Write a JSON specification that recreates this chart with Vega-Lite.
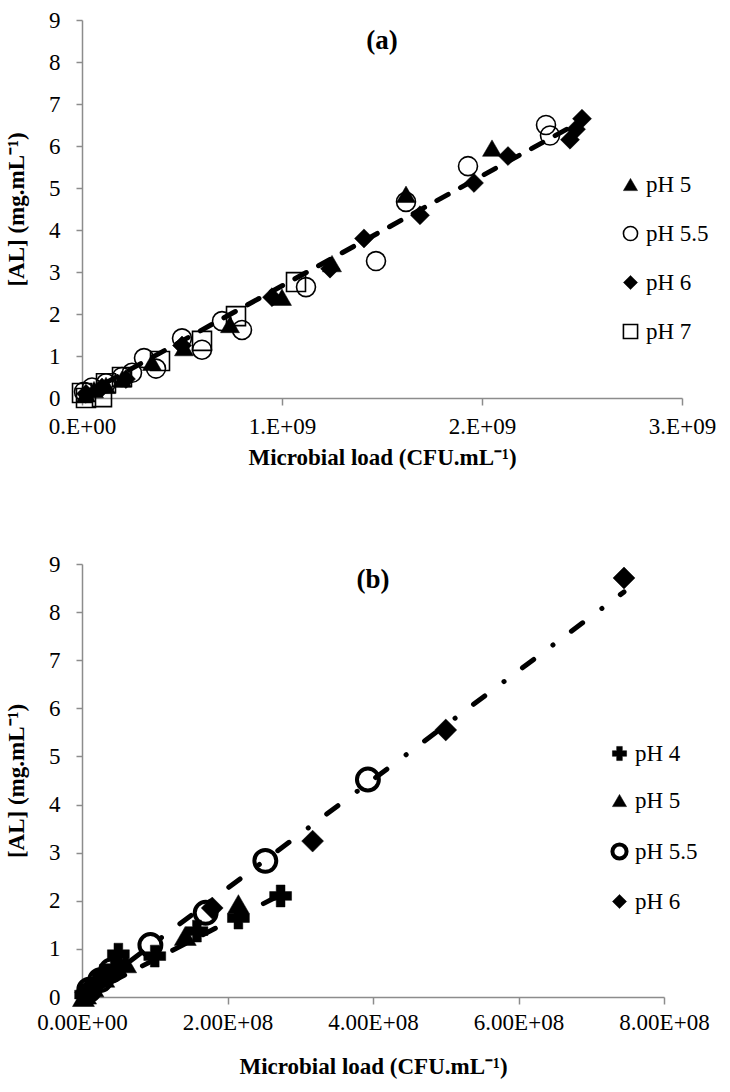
{
  "$schema": "https://vega.github.io/schema/vega-lite/v6.json",
  "background": "white",
  "padding": {"left": 5, "top": 9, "right": 5, "bottom": 5},
  "config": {
    "font": "Liberation Serif",
    "view": {"stroke": null},
    "axis": {"domainColor": "#8c8c8c", "domainWidth": 1.5, "tickColor": "#8c8c8c", "tickWidth": 1.5, "tickSize": 7, "grid": false, "labelFont": "Liberation Serif", "labelFontSize": 23, "labelColor": "black", "titleFont": "Liberation Serif", "titleFontSize": 23, "titleFontWeight": "bold", "titleColor": "black"},
    "legend": {"labelFont": "Liberation Serif", "labelFontSize": 23, "labelColor": "black"},
    "title": {"font": "Liberation Serif", "fontSize": 27, "fontWeight": "bold", "color": "black"},
    "concat": {"spacing": 84}
  },
  "resolve": {
    "scale": {"shape": "independent", "fill": "independent", "strokeWidth": "independent"},
    "legend": {"shape": "independent", "fill": "independent", "strokeWidth": "independent"}
  },
  "datasets": {
    "a": [
      {"ph": "pH 5", "load": 20000000, "al": 0.1},
      {"ph": "pH 5", "load": 60000000, "al": 0.2},
      {"ph": "pH 5", "load": 120000000, "al": 0.3},
      {"ph": "pH 5", "load": 200000000, "al": 0.45},
      {"ph": "pH 5", "load": 350000000, "al": 0.85},
      {"ph": "pH 5", "load": 510000000, "al": 1.2},
      {"ph": "pH 5", "load": 740000000, "al": 1.75},
      {"ph": "pH 5", "load": 1000000000, "al": 2.4},
      {"ph": "pH 5", "load": 1250000000, "al": 3.2},
      {"ph": "pH 5", "load": 1620000000, "al": 4.85},
      {"ph": "pH 5", "load": 2050000000, "al": 5.95},
      {"ph": "pH 5.5", "load": 10000000, "al": 0.15},
      {"ph": "pH 5.5", "load": 50000000, "al": 0.25},
      {"ph": "pH 5.5", "load": 120000000, "al": 0.35},
      {"ph": "pH 5.5", "load": 200000000, "al": 0.5},
      {"ph": "pH 5.5", "load": 250000000, "al": 0.6},
      {"ph": "pH 5.5", "load": 310000000, "al": 0.95},
      {"ph": "pH 5.5", "load": 370000000, "al": 0.7},
      {"ph": "pH 5.5", "load": 500000000, "al": 1.42},
      {"ph": "pH 5.5", "load": 600000000, "al": 1.15},
      {"ph": "pH 5.5", "load": 700000000, "al": 1.83},
      {"ph": "pH 5.5", "load": 800000000, "al": 1.62},
      {"ph": "pH 5.5", "load": 1120000000, "al": 2.64},
      {"ph": "pH 5.5", "load": 1470000000, "al": 3.26},
      {"ph": "pH 5.5", "load": 1620000000, "al": 4.67},
      {"ph": "pH 5.5", "load": 1930000000, "al": 5.52},
      {"ph": "pH 5.5", "load": 2320000000, "al": 6.5},
      {"ph": "pH 5.5", "load": 2340000000, "al": 6.25},
      {"ph": "pH 6", "load": 20000000, "al": 0.1},
      {"ph": "pH 6", "load": 100000000, "al": 0.25},
      {"ph": "pH 6", "load": 220000000, "al": 0.45},
      {"ph": "pH 6", "load": 500000000, "al": 1.25},
      {"ph": "pH 6", "load": 950000000, "al": 2.4},
      {"ph": "pH 6", "load": 1240000000, "al": 3.08},
      {"ph": "pH 6", "load": 1410000000, "al": 3.8},
      {"ph": "pH 6", "load": 1690000000, "al": 4.35},
      {"ph": "pH 6", "load": 1960000000, "al": 5.12},
      {"ph": "pH 6", "load": 2130000000, "al": 5.76},
      {"ph": "pH 6", "load": 2440000000, "al": 6.15},
      {"ph": "pH 6", "load": 2470000000, "al": 6.4},
      {"ph": "pH 6", "load": 2500000000, "al": 6.65},
      {"ph": "pH 7", "load": 0, "al": 0.12},
      {"ph": "pH 7", "load": 20000000, "al": 0.0},
      {"ph": "pH 7", "load": 100000000, "al": 0.02},
      {"ph": "pH 7", "load": 120000000, "al": 0.35},
      {"ph": "pH 7", "load": 200000000, "al": 0.5},
      {"ph": "pH 7", "load": 390000000, "al": 0.88},
      {"ph": "pH 7", "load": 600000000, "al": 1.36},
      {"ph": "pH 7", "load": 770000000, "al": 1.95},
      {"ph": "pH 7", "load": 1070000000, "al": 2.76}
    ],
    "aFit": [
      {"load": 0, "al": 0.05},
      {"load": 2500000000, "al": 6.6}
    ],
    "b": [
      {"ph": "pH 4", "load": 5000000, "al": 0.05},
      {"ph": "pH 4", "load": 10000000, "al": 0.15},
      {"ph": "pH 4", "load": 20000000, "al": 0.3},
      {"ph": "pH 4", "load": 30000000, "al": 0.45},
      {"ph": "pH 4", "load": 45000000, "al": 0.6},
      {"ph": "pH 4", "load": 50000000, "al": 0.89},
      {"ph": "pH 4", "load": 100000000, "al": 0.85},
      {"ph": "pH 4", "load": 158000000, "al": 1.37},
      {"ph": "pH 4", "load": 215000000, "al": 1.64},
      {"ph": "pH 4", "load": 273000000, "al": 2.1},
      {"ph": "pH 5", "load": 2000000, "al": 0.0},
      {"ph": "pH 5", "load": 5000000, "al": 0.05},
      {"ph": "pH 5", "load": 15000000, "al": 0.2},
      {"ph": "pH 5", "load": 30000000, "al": 0.4},
      {"ph": "pH 5", "load": 60000000, "al": 0.7},
      {"ph": "pH 5", "load": 142000000, "al": 1.27},
      {"ph": "pH 5", "load": 215000000, "al": 1.93},
      {"ph": "pH 5.5", "load": 10000000, "al": 0.15},
      {"ph": "pH 5.5", "load": 25000000, "al": 0.35},
      {"ph": "pH 5.5", "load": 40000000, "al": 0.55},
      {"ph": "pH 5.5", "load": 94000000, "al": 1.08},
      {"ph": "pH 5.5", "load": 170000000, "al": 1.75},
      {"ph": "pH 5.5", "load": 252000000, "al": 2.83},
      {"ph": "pH 5.5", "load": 393000000, "al": 4.52},
      {"ph": "pH 6", "load": 5000000, "al": 0.1},
      {"ph": "pH 6", "load": 20000000, "al": 0.25},
      {"ph": "pH 6", "load": 50000000, "al": 0.6},
      {"ph": "pH 6", "load": 179000000, "al": 1.85},
      {"ph": "pH 6", "load": 317000000, "al": 3.24},
      {"ph": "pH 6", "load": 500000000, "al": 5.55},
      {"ph": "pH 6", "load": 745000000, "al": 8.71}
    ],
    "bFit1": [
      {"load": 0, "al": 0.0},
      {"load": 745000000, "al": 8.42}
    ],
    "bFit2": [
      {"load": 0, "al": 0.0},
      {"load": 280000000, "al": 2.18}
    ]
  },
  "vconcat": [
    {
      "width": 600,
      "height": 378,
      "title": {"text": "(a)", "baseline": "middle", "offset": 0, "dy": 59, "anchor": "middle", "frame": "group"},
      "encoding": {
        "x": {"field": "load", "type": "quantitative", "scale": {"domain": [0, 3000000000], "nice": false}, "axis": {"values": [0, 1000000000, 2000000000, 3000000000], "labelExpr": "datum.value == 0 ? '0.E+00' : format(datum.value/1e9,'d') + '.E+09'", "title": "Microbial load (CFU.mL⁻¹)", "labelPadding": 10, "titlePadding": 8, "labelFlush": false}},
        "y": {"field": "al", "type": "quantitative", "scale": {"domain": [0, 9], "nice": false}, "axis": {"values": [0, 1, 2, 3, 4, 5, 6, 7, 8, 9], "title": "[AL] (mg.mL⁻¹)", "titlePadding": 20, "labelPadding": 16, "tickSize": 6}}
      },
      "layer": [
        {
          "data": {"name": "a"},
          "mark": {"type": "point", "stroke": "black", "opacity": 1, "size": 360},
          "encoding": {
            "shape": {"field": "ph", "type": "nominal", "scale": {"domain": ["pH 5", "pH 5.5", "pH 6", "pH 7"], "range": ["triangle-up", "circle", "diamond", "square"]}, "legend": {"title": null, "orient": "none", "legendX": 537, "legendY": 153, "padding": 0, "rowPadding": 25, "symbolSize": 200, "labelOffset": 4, "encode": {"symbols": {"update": {"stroke": {"value": "black"}}}}}},
            "fill": {"field": "ph", "type": "nominal", "scale": {"domain": ["pH 5", "pH 5.5", "pH 6", "pH 7"], "range": ["black", "transparent", "black", "transparent"]}, "legend": {"title": null, "orient": "none", "legendX": 537, "legendY": 153, "padding": 0, "rowPadding": 25, "symbolSize": 200, "labelOffset": 4, "encode": {"symbols": {"update": {"stroke": {"value": "black"}}}}}},
            "strokeWidth": {"field": "ph", "type": "nominal", "scale": {"type": "ordinal", "domain": ["pH 5", "pH 5.5", "pH 6", "pH 7"], "range": [0.5, 1.6, 0.5, 1.6]}, "legend": {"title": null, "orient": "none", "legendX": 537, "legendY": 153, "padding": 0, "rowPadding": 25, "symbolSize": 200, "labelOffset": 4, "encode": {"symbols": {"update": {"stroke": {"value": "black"}}}}}}
          }
        },
        {
          "data": {"name": "aFit"},
          "mark": {"type": "line", "color": "black", "strokeWidth": 5, "strokeDash": [13, 14], "strokeCap": "round"}
        }
      ]
    },
    {
      "width": 582,
      "height": 433,
      "title": {"text": "(b)", "baseline": "middle", "offset": 0, "dy": 54, "anchor": "middle", "frame": "group"},
      "encoding": {
        "x": {"field": "load", "type": "quantitative", "scale": {"domain": [0, 800000000], "nice": false}, "axis": {"values": [0, 200000000, 400000000, 600000000, 800000000], "labelExpr": "datum.value == 0 ? '0.00E+00' : format(datum.value/1e8,'.2f') + 'E+08'", "title": "Microbial load (CFU.mL⁻¹)", "labelPadding": 7, "titlePadding": 21, "labelFlush": false}},
        "y": {"field": "al", "type": "quantitative", "scale": {"domain": [0, 9], "nice": false}, "axis": {"values": [0, 1, 2, 3, 4, 5, 6, 7, 8, 9], "title": "[AL] (mg.mL⁻¹)", "titlePadding": 20, "labelPadding": 16, "tickSize": 6}}
      },
      "layer": [
        {
          "data": {"name": "b"},
          "mark": {"type": "point", "stroke": "black", "opacity": 1, "size": 480, "strokeJoin": "round"},
          "encoding": {
            "shape": {"field": "ph", "type": "nominal", "scale": {"domain": ["pH 4", "pH 5", "pH 5.5", "pH 6"], "range": ["cross", "triangle-up", "circle", "diamond"]}, "legend": {"title": null, "orient": "none", "legendX": 526, "legendY": 178, "padding": 0, "rowPadding": 23, "symbolSize": 200, "labelOffset": 4, "encode": {"symbols": {"update": {"stroke": {"value": "black"}}}}}},
            "fill": {"field": "ph", "type": "nominal", "scale": {"domain": ["pH 4", "pH 5", "pH 5.5", "pH 6"], "range": ["black", "black", "transparent", "black"]}, "legend": {"title": null, "orient": "none", "legendX": 526, "legendY": 178, "padding": 0, "rowPadding": 23, "symbolSize": 200, "labelOffset": 4, "encode": {"symbols": {"update": {"stroke": {"value": "black"}}}}}},
            "strokeWidth": {"field": "ph", "type": "nominal", "scale": {"type": "ordinal", "domain": ["pH 4", "pH 5", "pH 5.5", "pH 6"], "range": [0.5, 0.5, 4, 0.5]}, "legend": {"title": null, "orient": "none", "legendX": 526, "legendY": 178, "padding": 0, "rowPadding": 23, "symbolSize": 200, "labelOffset": 4, "encode": {"symbols": {"update": {"stroke": {"value": "black"}}}}}}
          }
        },
        {
          "data": {"name": "bFit1"},
          "mark": {"type": "line", "color": "black", "strokeWidth": 5, "strokeDash": [14, 24, 0.1, 23], "strokeCap": "round"}
        },
        {
          "data": {"name": "bFit2"},
          "mark": {"type": "line", "color": "black", "strokeWidth": 5, "strokeDash": [14, 20], "strokeCap": "round"}
        }
      ]
    }
  ]
}
